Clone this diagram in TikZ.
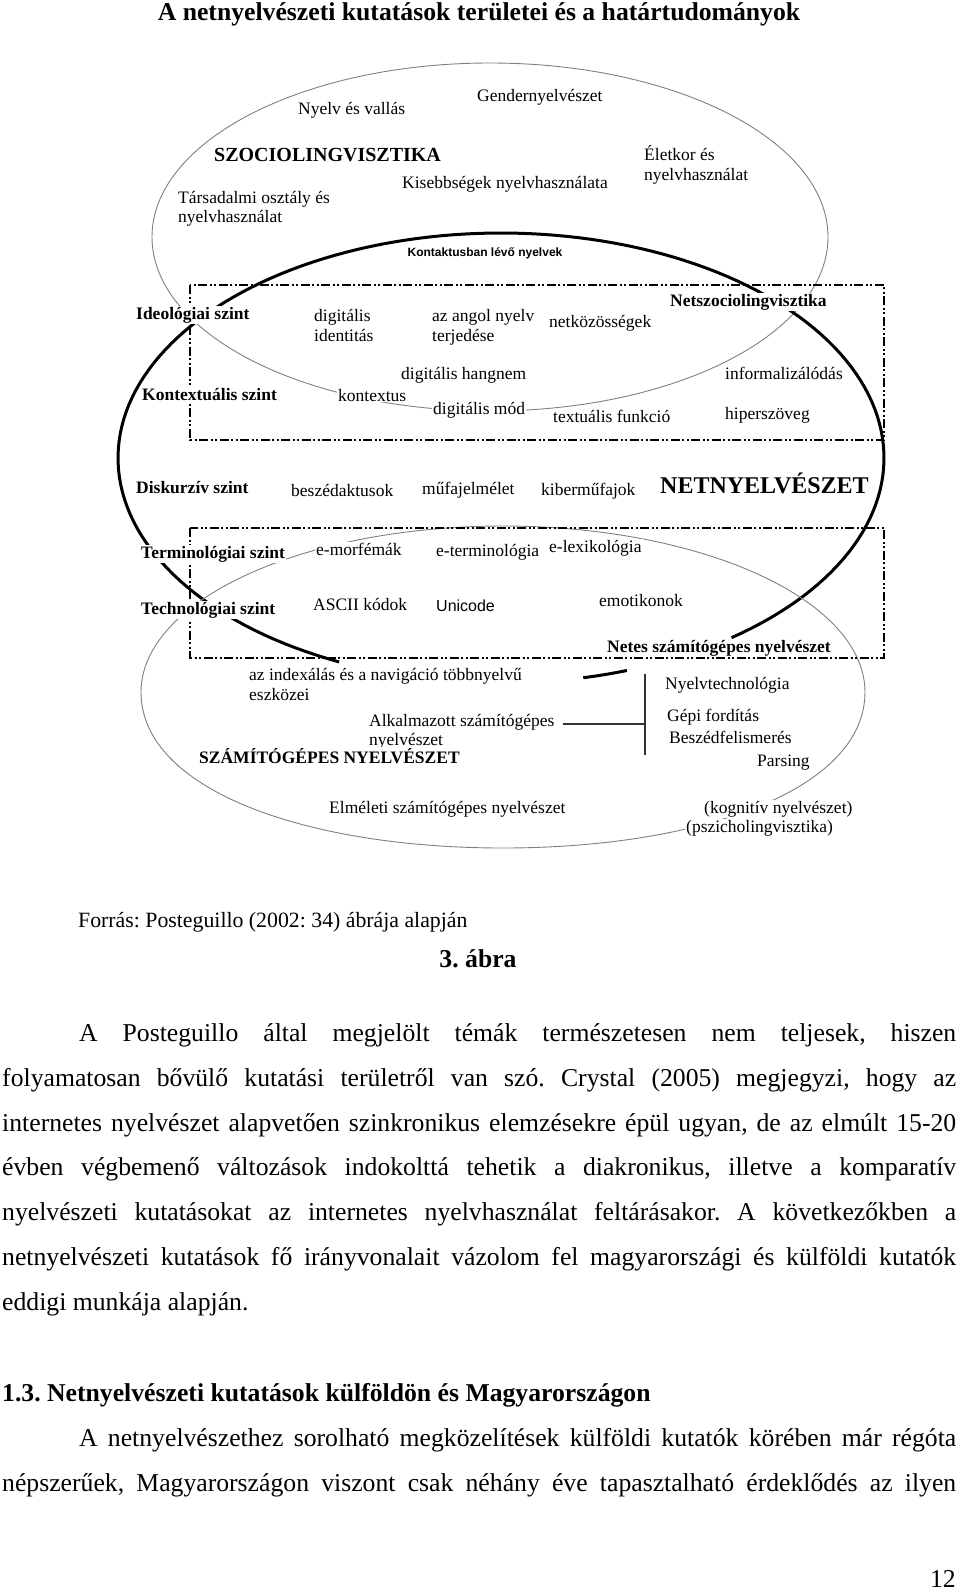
\documentclass[tikz,border=0pt]{standalone}
\usepackage{fontspec}
\setmainfont{Liberation Serif}
\newfontfamily\sansf{Liberation Sans}
\frenchspacing
\begin{document}
\begin{tikzpicture}[x=1pt,y=-1pt,
  lbl/.style={font=\fontsize{17.5}{20}\selectfont, inner sep=1pt, fill=white, anchor=base west},
  lblb/.style={lbl, font=\fontsize{17.5}{20}\selectfont\bfseries},
  body/.style={font=\fontsize{25.7}{30}\selectfont, inner sep=0pt, anchor=base west},
  thinl/.style={draw=black!50, line width=0.9pt},
  thickl/.style={draw=black, line width=3pt},
  ddash/.style={draw=black, line width=1.8pt, dash pattern=on 9pt off 2.5pt on 2pt off 2.5pt on 2pt off 2.5pt},
  conn/.style={draw=black!80, line width=1.2pt}]
\fill[white] (0,0) rectangle (960,1590);
\useasboundingbox (0,0) rectangle (960,1590);

% title
\node[font=\fontsize{25.7}{30}\selectfont\bfseries, inner sep=0pt, anchor=base] (title) at (479,20) {A netnyelvészeti kutatások területei és a határtudományok};

% ellipses
\draw[thinl] (490,237) ellipse [x radius=338, y radius=174];
\draw[thickl] plot[domain=115:413, samples=160, variable=\t] ({501+383*cos(\t)}, {458+225*sin(\t)});
\draw[thickl] plot[domain=70.8:77.6, samples=10, variable=\t] ({501+383*cos(\t)}, {458+225*sin(\t)});
\draw[thinl] plot[domain=180:360, samples=100, variable=\t] ({503+362*cos(\t)}, {692+166*sin(\t)})
  .. controls (865,790) and (700,848) .. (503,848)
  .. controls (306,848) and (141,790) .. (141,692) -- cycle;

% dash-dot boxes
\draw[ddash] (190,285) rectangle (884,440);
\draw[ddash] (190,528) rectangle (884,658);

% sociolinguistics
\node[lbl] (nyvall) at (297,114) {Nyelv és vallás};
\node[lbl] (gender) at (476,101) {Gendernyelvészet};
\node[lbl, font=\fontsize{20}{22}\selectfont\bfseries] (szocio) at (213,161) {SZOCIOLINGVISZTIKA};
\node[lbl] (eletkor1) at (643,160) {Életkor és};
\node[lbl] (eletkor2) at (643,180) {nyelvhasználat};
\node[lbl] (kisebb) at (401,188) {Kisebbségek nyelvhasználata};
\node[lbl] (tars1) at (177,203) {Társadalmi osztály és};
\node[lbl] (tars2) at (177,222) {nyelvhasználat};
\node[lbl, anchor=center, font=\sansf\fontsize{12}{14}\selectfont\bfseries] (kontakt) at (485,253) {Kontaktusban lévő nyelvek};

% upper box
\node[lblb] (ideo) at (135,319) {Ideológiai szint};
\node[lbl] (digid1) at (313,321) {digitális};
\node[lbl] (digid2) at (313,341) {identitás};
\node[lbl] (angol1) at (431,321) {az angol nyelv};
\node[lbl] (angol2) at (431,341) {terjedése};
\node[lbl] (netkoz) at (548,327) {netközösségek};
\node[lblb] (netszoc) at (669,306) {Netszociolingvisztika};
\node[lbl] (dighang) at (400,379) {digitális hangnem};
\node[lbl] (inform) at (724,379) {informalizálódás};
\node[lblb] (kontszint) at (141,400) {Kontextuális szint};
\node[lbl] (kontextus) at (337,401) {kontextus};
\node[lbl] (digmod) at (432,414) {digitális mód};
\node[lbl] (textfunk) at (552,422) {textuális funkció};
\node[lbl] (hiper) at (724,419) {hiperszöveg};

% middle
\node[lblb] (disk) at (135,493) {Diskurzív szint};
\node[lbl] (beszed) at (290,496) {beszédaktusok};
\node[lbl] (mufaj) at (421,494) {műfajelmélet};
\node[lbl] (kiber) at (540,495) {kiberműfajok};
\node[lbl, font=\fontsize{24}{26}\selectfont\bfseries] (netnyelv) at (659,493) {NETNYELVÉSZET};

% lower box
\node[lblb] (termin) at (140,558) {Terminológiai szint};
\node[lbl] (emorf) at (315,555) {e-morfémák};
\node[lbl] (eterm) at (435,556) {e-terminológia};
\node[lbl] (elex) at (548,552) {e-lexikológia};
\node[lblb] (techn) at (140,614) {Technológiai szint};
\node[lbl] (ascii) at (312,610) {ASCII kódok};
\node[lbl, font=\sansf\fontsize{16}{18}\selectfont] (unicode) at (435,611) {Unicode};
\node[lbl] (emot) at (598,606) {emotikonok};
\node[lblb] (netes) at (606,652) {Netes számítógépes nyelvészet};

% computational linguistics
\node[lbl] (index1) at (248,680) {az indexálás és a navigáció többnyelvű};
\node[lbl] (index2) at (248,700) {eszközei};
\node[lbl] (alk1) at (368,726) {Alkalmazott számítógépes};
\node[lbl] (alk2) at (368,745) {nyelvészet};
\node[lblb] (szamit) at (198,763) {SZÁMÍTÓGÉPES NYELVÉSZET};
\node[lbl] (nyelvtech) at (664,689) {Nyelvtechnológia};
\node[lbl] (gepi) at (666,721) {Gépi fordítás};
\node[lbl] (beszfel) at (668,743) {Beszédfelismerés};
\node[lbl] (parsing) at (756,766) {Parsing};
\node[lbl] (elmeleti) at (328,813) {Elméleti számítógépes nyelvészet};
\node[lbl] (kogn) at (703,813) {(kognitív nyelvészet)};
\node[lbl] (pszich) at (685,832) {(pszicholingvisztika)};

\coordinate (hstart) at (563,724);
\coordinate (vmid) at (645,724);
\coordinate (vtop) at (645,674);
\coordinate (vbot) at (645,755);
\draw[conn] (hstart) -- (vmid);
\draw[conn] (vtop) -- (vbot);

% caption
\node[font=\fontsize{21.8}{26}\selectfont, inner sep=0pt, anchor=base west] (forras) at (78,927) {Forrás: Posteguillo (2002: 34) ábrája alapján};
\node[font=\fontsize{25.7}{30}\selectfont\bfseries, inner sep=0pt, anchor=base] (abra) at (478,967) {3. ábra};

% body text
\node[body] (l1) at (79,1041) {\makebox[877pt][s]{A Posteguillo által megjelölt témák természetesen nem teljesek, hiszen}};
\node[body] (l2) at (2,1086) {\makebox[954pt][s]{folyamatosan bővülő kutatási területről van szó. Crystal (2005) megjegyzi, hogy az}};
\node[body] (l3) at (2,1131) {\makebox[954pt][s]{internetes nyelvészet alapvetően szinkronikus elemzésekre épül ugyan, de az elmúlt 15-20}};
\node[body] (l4) at (2,1175) {\makebox[954pt][s]{évben végbemenő változások indokolttá tehetik a diakronikus, illetve a komparatív}};
\node[body] (l5) at (2,1220) {\makebox[954pt][s]{nyelvészeti kutatásokat az internetes nyelvhasználat feltárásakor. A következőkben a}};
\node[body] (l6) at (2,1265) {\makebox[954pt][s]{netnyelvészeti kutatások fő irányvonalait vázolom fel magyarországi és külföldi kutatók}};
\node[body] (l7) at (2,1310) {eddigi munkája alapján.};
\node[body, font=\fontsize{25.7}{30}\selectfont\bfseries] (head) at (2,1401) {1.3. Netnyelvészeti kutatások külföldön és Magyarországon};
\node[body] (l8) at (79,1446) {\makebox[877pt][s]{A netnyelvészethez sorolható megközelítések külföldi kutatók körében már régóta}};
\node[body] (l9) at (2,1491) {\makebox[954pt][s]{népszerűek, Magyarországon viszont csak néhány éve tapasztalható érdeklődés az ilyen}};
\node[font=\fontsize{25.7}{30}\selectfont, inner sep=0pt, anchor=base east] (page) at (956,1587) {12};
\end{tikzpicture}
\end{document}
